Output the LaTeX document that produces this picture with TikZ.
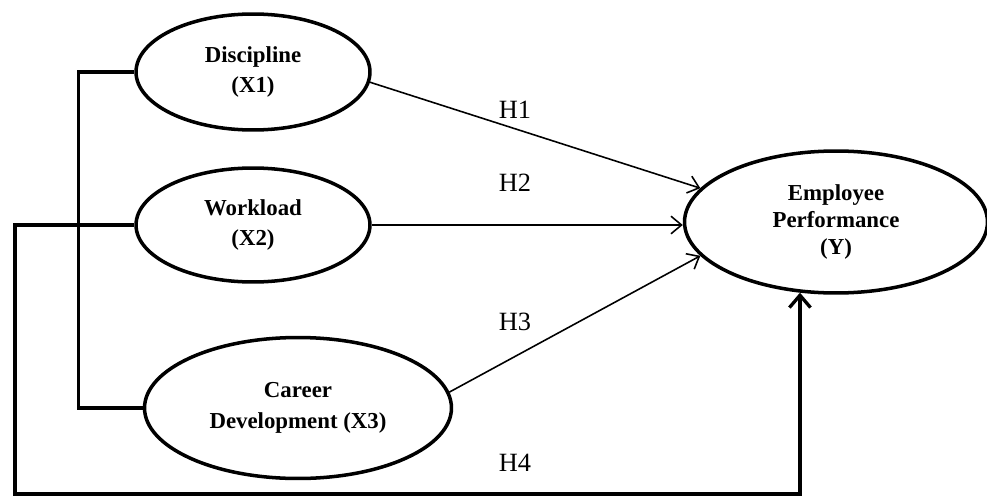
\documentclass[tikz,border=0pt]{standalone}
\usepackage{fontspec}
\setmainfont{Liberation Serif}
\usetikzlibrary{shapes.geometric, arrows.meta, positioning}

\begin{document}
\begin{tikzpicture}[
  x=0.02cm, y=-0.02cm,
  var/.style={ellipse, draw, line width=2pt, inner sep=0pt, align=center,
    font=\bfseries\fontsize{13}{17.5}\selectfont},
  hpath/.style={-{Straight Barb[length=6pt, width=10pt]}, line width=0.9pt},
  link/.style={line width=1.9pt},
  hyp/.style={font=\fontsize{15}{18}\selectfont}
]
\useasboundingbox (0,0) rectangle (987,497);

\node[var, minimum width=4.68cm, minimum height=2.32cm] (disc) at (253,72) {Discipline\\(X1)};
\node[var, minimum width=4.68cm, minimum height=2.28cm] (work) at (253,225) {Workload\\(X2)};
\node[var, minimum width=6.14cm, minimum height=2.82cm] (career) at (298,408) {Career\\Development (X3)};
\node[var, minimum width=6.06cm, minimum height=2.84cm,
  font=\bfseries\fontsize{13}{15.5}\selectfont] (emp) at (836,222) {Employee\\Performance\\(Y)};

\node[hyp] (h1) at (515,110) {H1};
\node[hyp] (h2) at (515,183) {H2};
\node[hyp] (h3) at (515,322) {H3};
\node[hyp] (h4) at (515,463) {H4};

\coordinate (corner) at (15,494);

% hypotheses
\draw[hpath] (disc.-5) -- (emp.166);
\draw[hpath] (work.east) -- (work.east -| emp.west);
\draw[hpath] (career.6) -- (emp.194);

% bracket of X1 and X3
\draw[link] (disc.west) -- ++(-56,0) |- (career.west);
% X2 round the bottom to Y
\draw[link, -{Straight Barb[length=7pt, width=12pt]}] (work.west) -| (corner) -| (emp.-117);

\end{tikzpicture}
\end{document}
